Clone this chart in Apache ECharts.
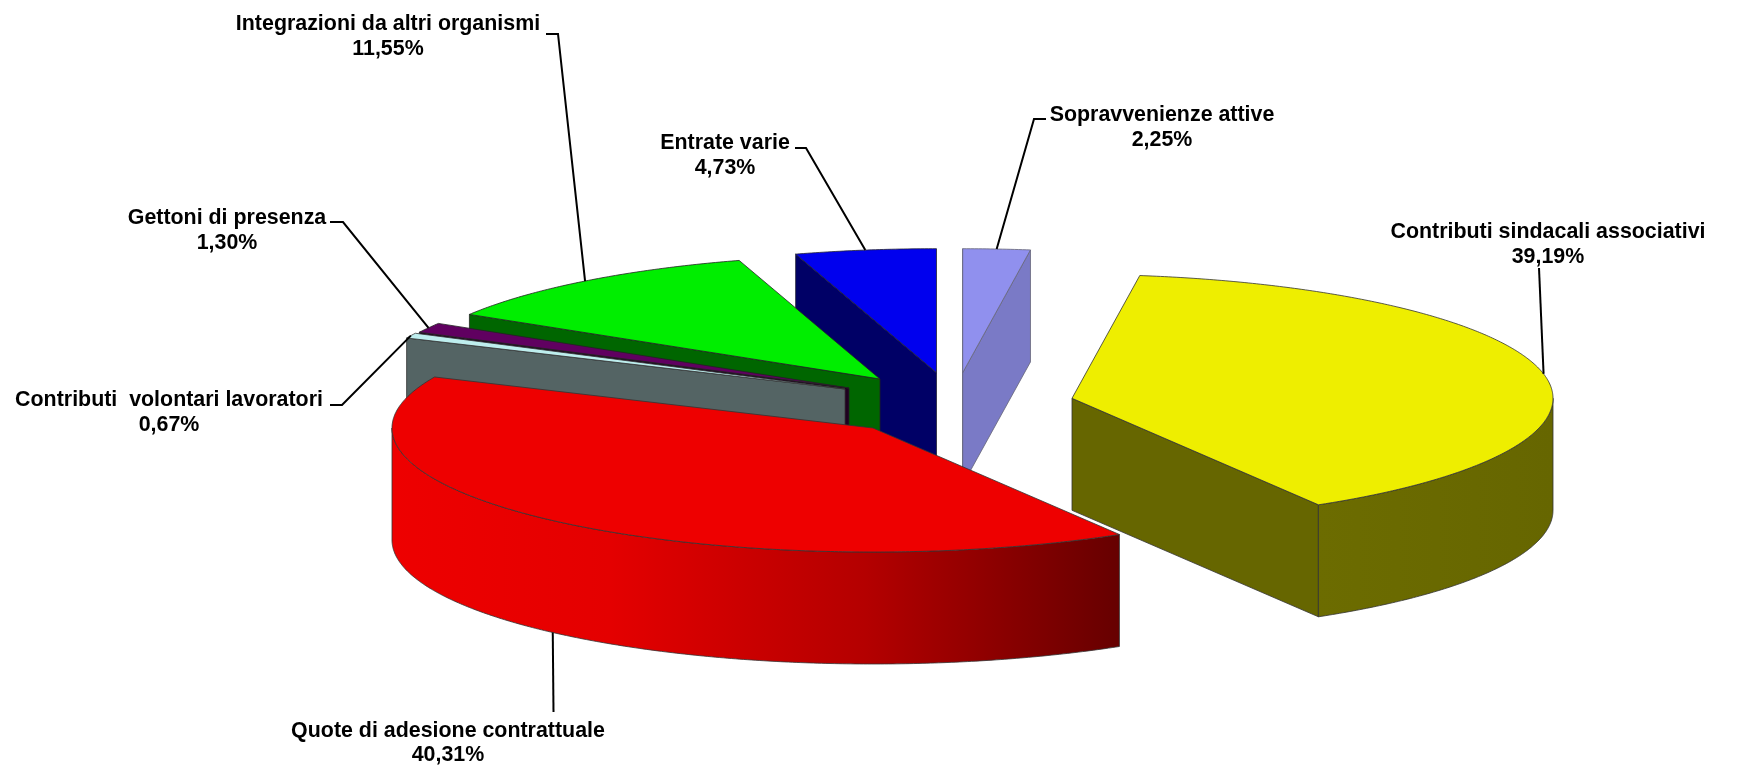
<!DOCTYPE html>
<html><head><meta charset="utf-8">
<style>html,body{margin:0;padding:0;background:#fff}#c{width:1744px;height:768px}</style>
<script src="https://cdn.jsdelivr.net/npm/echarts@6/dist/echarts.min.js"></script>
</head><body><div id="c"></div>
<script>
// Data, in the pie's clockwise order
const categories = ['Contributi sindacali associativi','Quote di adesione contrattuale','Contributi  volontari lavoratori','Gettoni di presenza','Integrazioni da altri organismi','Entrate varie','Sopravvenienze attive'];
const percentages = [39.19,40.31,0.67,1.30,11.55,4.73,2.25];

// Styles
const topColors  = ['#EEEE00','#EE0000','#BEEEEE','#600060','#00EE00','#0000EE','#9090EE'];
const wallColors = ['#666600','#8E0000','#546464','#200020','#006600','#000066','#7A7AC6'];
const edgeColors = ['#333','#333','#333','#222','#222','#223','#667'];

// Layout: projected pie geometry and explosion apex of each slice
const START_ANGLE = 8.1, RX = 481, RY = 124, DEPTH = 112;
const apexX = [1072,873,845,849,880,936.5,962.7];
const apexY = [398.3,428,389,388,379,372.7,372.7];
const labelX = [1548,448,169,227,388,725,1162];
const labelY = [244.5,743,412.5,230.5,36.5,155.5,127.5];
const leaderHead = [[1539,268],null,[330,405],[330,222],[546,34],[795,148],[1046,119]];
const leaderElbow = [[1539,268],[553.5,712],[342,405],[343,222],[558,34],[806,148],[1034,119]];

const sum = percentages.reduce((a,b)=>a+b,0);
const spans = []; { let a = START_ANGLE; percentages.forEach(v=>{ const e=a+v/sum*360; spans.push([a,e]); a=e; }); }
const rad = d => d*Math.PI/180;
const rim = (i,d,drop) => [apexX[i]+RX*Math.sin(rad(d)), apexY[i]-RY*Math.cos(rad(d))+(drop||0)];
const arc = (i,a,b,drop) => { const p=[]; const n=Math.max(2,Math.ceil(Math.abs(b-a)*2)); for(let k=0;k<=n;k++) p.push(rim(i,a+(b-a)*k/n,drop)); return p; };
const poly = (points,fill,stroke) => ({type:'polygon',shape:{points},style:{fill,stroke,lineWidth:0.8,lineJoin:'round'}});
const wallFill = i => i===1
  ? {type:'linear',x:0,y:0,x2:1,y2:0,colorStops:[{offset:0,color:'#EE0000'},{offset:0.3,color:'#E40000'},{offset:0.65,color:'#B40000'},{offset:1,color:'#660000'}]}
  : i===0
  ? {type:'linear',x:0,y:0,x2:1,y2:0,colorStops:[{offset:0,color:'#6C6C00'},{offset:1,color:'#666600'}]}
  : wallColors[i];

function sliceItem(params){
  const i = drawOrder[params.dataIndex];
  const [s,e] = spans[i];
  const ax=apexX[i], ay=apexY[i], kids=[];
  const cut = d => { const r=rim(i,d); return poly([[ax,ay],r,[r[0],r[1]+DEPTH],[ax,ay+DEPTH]],wallColors[i],edgeColors[i]); };
  if (Math.sin(rad(s))<0) kids.push(cut(s));
  if (Math.sin(rad(e))>0) kids.push(cut(e));
  const a=Math.max(s,90), b=Math.min(e,270);
  if (b>a) kids.push(poly(arc(i,a,b,0).concat(arc(i,b,a,DEPTH)),wallFill(i),edgeColors[i]));
  kids.push(poly([[ax,ay]].concat(arc(i,s,e,0)),topColors[i],edgeColors[i]));
  return {type:'group',children:kids};
}
function labelItem(params){
  const i = params.dataIndex;
  const mid = (spans[i][0]+spans[i][1])/2;
  const m = ((mid%360)+360)%360;
  const end = rim(i,mid,(m>90&&m<270)?DEPTH:0);
  const pts = (leaderHead[i]?[leaderHead[i]]:[]).concat([leaderElbow[i],end]);
  return {type:'group',children:[
    {type:'polyline',shape:{points:pts},style:{fill:'none',stroke:'#000',lineWidth:2}},
    {type:'text',x:labelX[i],y:labelY[i],style:{
      text:categories[i]+'\n'+percentages[i].toFixed(2).replace('.',',')+'%',
      font:'bold 21.4px "Liberation Sans", Arial, sans-serif',fill:'#000',
      align:'center',verticalAlign:'middle',lineHeight:24.5}}
  ]};
}
const drawOrder = categories.map((_,i)=>i).sort((p,q)=>apexY[p]-apexY[q]);
const chart = echarts.init(document.getElementById('c'),null,{renderer:'canvas'});
chart.setOption({
  animation:false, backgroundColor:'#fff',
  series:[
    {type:'custom',coordinateSystem:'none',silent:true,z:2,renderItem:sliceItem,data:drawOrder.map(i=>[percentages[i]])},
    {type:'custom',coordinateSystem:'none',silent:true,z:3,renderItem:labelItem,data:percentages.map(v=>[v])}
  ]
});
</script></body></html>
